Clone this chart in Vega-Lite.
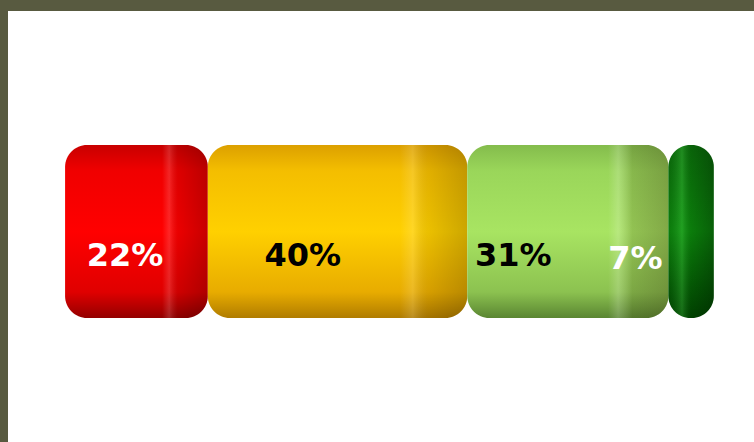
{
  "$schema": "https://vega.github.io/schema/vega-lite/v6.json",
  "width": 754,
  "height": 442,
  "autosize": {"type": "fit", "contains": "padding"},
  "background": "#585A40",
  "padding": {"left": 8, "top": 11, "right": 0, "bottom": 0},
  "config": {"view": {"stroke": null, "fill": "#ffffff"}},
  "data": {"values": [
    {"category": "Red", "value": 22, "label": "22%"},
    {"category": "Yellow", "value": 40, "label": "40%"},
    {"category": "Light green", "value": 31, "label": "31%"},
    {"category": "Dark green", "value": 7, "label": "7%"}
  ]},
  "transform": [
    {"stack": "value", "groupby": [], "as": ["x0", "x1"]}
  ],
  "encoding": {
    "y": {"datum": "A", "type": "nominal", "axis": null,
          "scale": {"paddingInner": 0, "paddingOuter": 0.746, "align": 0.519}},
    "x": {"field": "x0", "type": "quantitative", "axis": null, "scale": {"domain": [-8.8, 106.2], "nice": false, "zero": false}}
  },
  "layer": [
    {
      "transform": [{"filter": "datum.category === 'Red'"}],
      "layer": [
        {"mark": {"type": "bar", "cornerRadius": 22,
          "fill": {"gradient": "linear", "x1": 0, "y1": 0, "x2": 0, "y2": 1,
            "stops": [{"offset": 0, "color": "#c80000"}, {"offset": 0.15, "color": "#f00000"}, {"offset": 0.5, "color": "#ff0000"}, {"offset": 0.85, "color": "#e00000"}, {"offset": 1, "color": "#940000"}]}},
         "encoding": {"x2": {"field": "x1"}}},
        {"mark": {"type": "bar", "cornerRadius": 22,
          "fill": {"gradient": "linear", "x1": 0, "y1": 0, "x2": 1, "y2": 0,
            "stops": [{"offset": 0, "color": "rgba(255,255,255,0)"}, {"offset": 0.68, "color": "rgba(255,255,255,0)"}, {"offset": 0.73, "color": "rgba(255,255,255,0.15)"}, {"offset": 0.79, "color": "rgba(0,0,0,0.08)"}, {"offset": 1, "color": "rgba(0,0,0,0.22)"}]}},
         "encoding": {"x2": {"field": "x1"}}},
        {"mark": {"type": "text", "font": "DejaVu Sans", "fontWeight": "bold", "fontSize": 32, "color": "#ffffff", "dx": 60, "dy": 25, "baseline": "middle", "align": "center"},
         "encoding": {"text": {"field": "label"}}}
      ]
    },
    {
      "transform": [{"filter": "datum.category === 'Yellow'"}],
      "layer": [
        {"mark": {"type": "bar", "cornerRadius": 22,
          "fill": {"gradient": "linear", "x1": 0, "y1": 0, "x2": 0, "y2": 1,
            "stops": [{"offset": 0, "color": "#dca000"}, {"offset": 0.15, "color": "#f4be00"}, {"offset": 0.5, "color": "#ffd000"}, {"offset": 0.85, "color": "#e8ac00"}, {"offset": 1, "color": "#b07c00"}]}},
         "encoding": {"x2": {"field": "x1"}}},
        {"mark": {"type": "bar", "cornerRadius": 22,
          "fill": {"gradient": "linear", "x1": 0, "y1": 0, "x2": 1, "y2": 0,
            "stops": [{"offset": 0, "color": "rgba(255,255,255,0)"}, {"offset": 0.74, "color": "rgba(255,255,255,0)"}, {"offset": 0.79, "color": "rgba(255,255,255,0.15)"}, {"offset": 0.85, "color": "rgba(0,0,0,0.08)"}, {"offset": 1, "color": "rgba(0,0,0,0.2)"}]}},
         "encoding": {"x2": {"field": "x1"}}},
        {"mark": {"type": "text", "font": "DejaVu Sans", "fontWeight": "bold", "fontSize": 32, "color": "#000000", "dx": 95, "dy": 25, "baseline": "middle", "align": "center"},
         "encoding": {"text": {"field": "label"}}}
      ]
    },
    {
      "transform": [{"filter": "datum.category === 'Light green'"}],
      "layer": [
        {"mark": {"type": "bar", "cornerRadius": 22,
          "fill": {"gradient": "linear", "x1": 0, "y1": 0, "x2": 0, "y2": 1,
            "stops": [{"offset": 0, "color": "#84bc4c"}, {"offset": 0.15, "color": "#9ad65a"}, {"offset": 0.5, "color": "#a8e462"}, {"offset": 0.85, "color": "#8cc250"}, {"offset": 1, "color": "#5a8632"}]}},
         "encoding": {"x2": {"field": "x1"}}},
        {"mark": {"type": "bar", "cornerRadius": 22,
          "fill": {"gradient": "linear", "x1": 0, "y1": 0, "x2": 1, "y2": 0,
            "stops": [{"offset": 0, "color": "rgba(255,255,255,0)"}, {"offset": 0.7, "color": "rgba(255,255,255,0)"}, {"offset": 0.75, "color": "rgba(255,255,255,0.18)"}, {"offset": 0.82, "color": "rgba(60,60,20,0.2)"}, {"offset": 1, "color": "rgba(60,60,20,0.35)"}]}},
         "encoding": {"x2": {"field": "x1"}}},
        {"mark": {"type": "text", "font": "DejaVu Sans", "fontWeight": "bold", "fontSize": 32, "color": "#000000", "dx": 46, "dy": 25, "baseline": "middle", "align": "center"},
         "encoding": {"text": {"field": "label"}}}
      ]
    },
    {
      "transform": [{"filter": "datum.category === 'Dark green'"}],
      "layer": [
        {"mark": {"type": "bar", "cornerRadius": 22,
          "fill": {"gradient": "linear", "x1": 0, "y1": 0, "x2": 0, "y2": 1,
            "stops": [{"offset": 0, "color": "#0a6e0a"}, {"offset": 0.5, "color": "#0c8a0c"}, {"offset": 1, "color": "#004800"}]}},
         "encoding": {"x2": {"field": "x1"}}},
        {"mark": {"type": "bar", "cornerRadius": 22,
          "fill": {"gradient": "linear", "x1": 0, "y1": 0, "x2": 1, "y2": 0,
            "stops": [{"offset": 0, "color": "rgba(0,0,0,0.1)"}, {"offset": 0.3, "color": "rgba(120,255,120,0.2)"}, {"offset": 0.5, "color": "rgba(0,0,0,0.1)"}, {"offset": 1, "color": "rgba(0,0,0,0.3)"}]}},
         "encoding": {"x2": {"field": "x1"}}},
        {"mark": {"type": "text", "font": "DejaVu Sans", "fontWeight": "bold", "fontSize": 32, "color": "#ffffff", "dx": -33, "dy": 28, "baseline": "middle", "align": "center"},
         "encoding": {"text": {"field": "label"}}}
      ]
    }
  ]
}
